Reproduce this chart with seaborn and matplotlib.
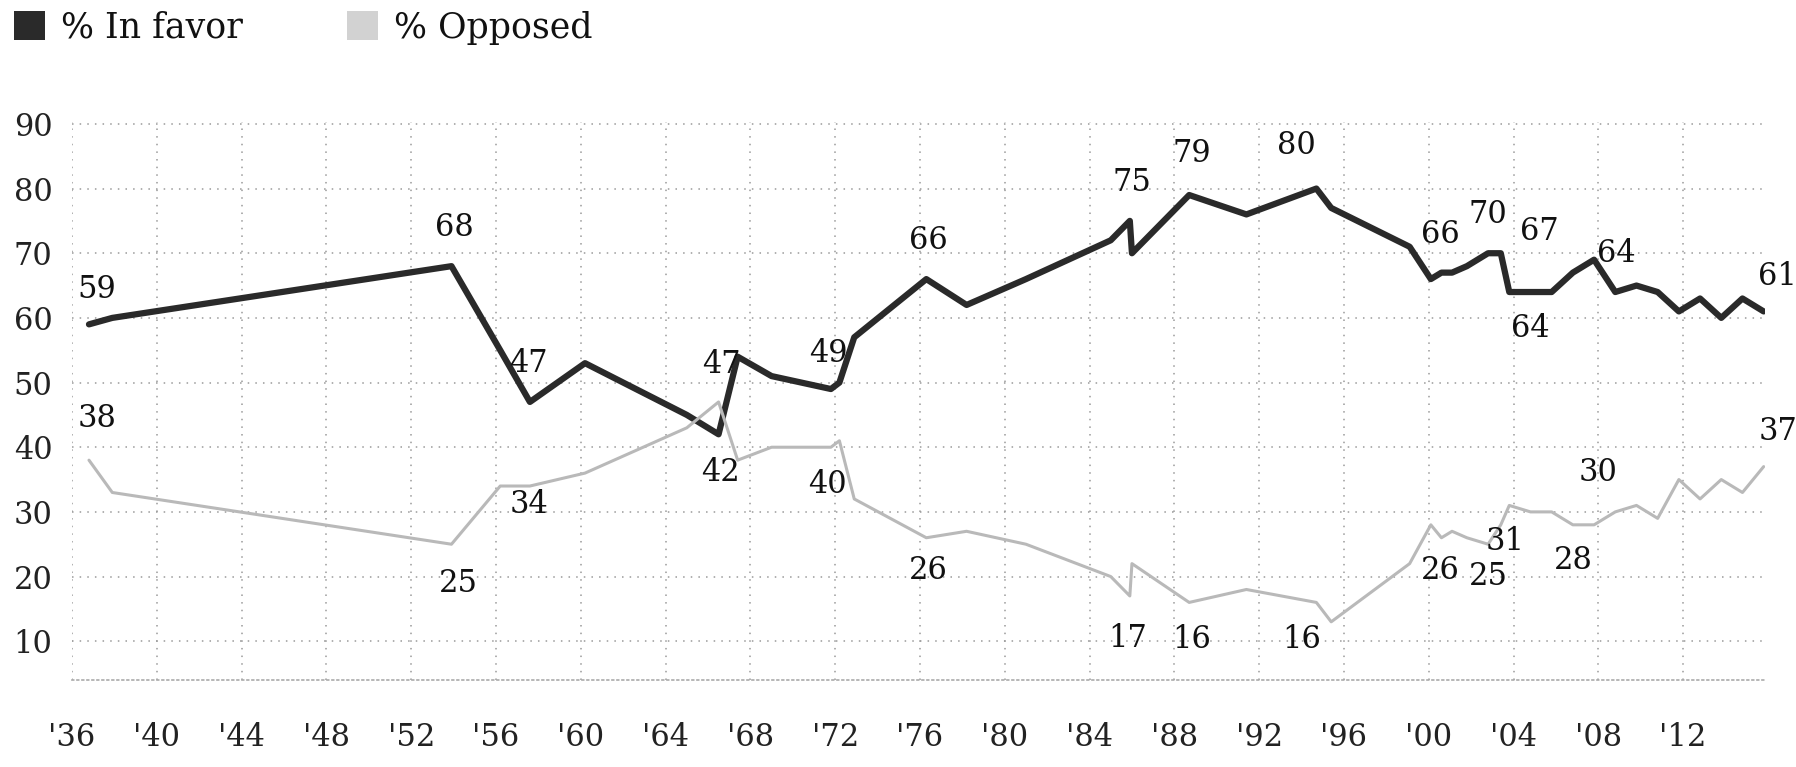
import numpy as np
import pandas as pd
import matplotlib
matplotlib.use("Agg")
import matplotlib.pyplot as plt
from matplotlib.patches import Patch
import seaborn as sns

# ---------------- data ----------------
years = [1936.8, 1937.9, 1953.9, 1956.2, 1957.6, 1960.2, 1965.0, 1966.5, 1967.4, 1969.0,
         1971.8, 1972.2, 1972.9, 1976.3, 1978.2, 1981.0, 1985.0, 1985.9, 1986.0, 1988.7,
         1991.4, 1994.7, 1995.4, 1999.1, 2000.1, 2000.6, 2001.1, 2001.8, 2002.8, 2003.4,
         2003.8, 2004.8, 2005.8, 2006.8, 2007.8, 2008.8, 2009.8, 2010.8, 2011.8, 2012.8,
         2013.8, 2014.8, 2015.8]
favor = [59, 60, 68, 55, 47, 53, 45, 42, 54, 51,
         49, 50, 57, 66, 62, 66, 72, 75, 70, 79,
         76, 80, 77, 71, 66, 67, 67, 68, 70, 70,
         64, 64, 64, 67, 69, 64, 65, 64, 61, 63,
         60, 63, 61]
opposed = [38, 33, 25, 34, 34, 36, 43, 47, 38, 40,
           40, 41, 32, 26, 27, 25, 20, 17, 22, 16,
           18, 16, 13, 22, 28, 26, 27, 26, 25, 28,
           31, 30, 30, 28, 28, 30, 31, 29, 35, 32,
           35, 33, 37]
series_names = ["% In favor", "% Opposed"]
tick_years = [1936, 1940, 1944, 1948, 1952, 1956, 1960, 1964, 1968, 1972,
              1976, 1980, 1984, 1988, 1992, 1996, 2000, 2004, 2008, 2012]
tick_labels = ["'36", "'40", "'44", "'48", "'52", "'56", "'60", "'64", "'68", "'72",
               "'76", "'80", "'84", "'88", "'92", "'96", "'00", "'04", "'08", "'12"]
y_ticks = [10, 20, 30, 40, 50, 60, 70, 80, 90]

# which points carry value labels (index into the arrays)
favor_labelled = [0, 2, 4, 7, 10, 13, 17, 19, 21, 24, 29, 31, 33, 35, 42]
opposed_labelled = [0, 2, 4, 7, 10, 13, 17, 19, 21, 25, 28, 30, 34, 35, 42]

# ---------------- styling ----------------
# label offsets in pixels (dx right, dy up)
favor_off = [(8, 35), (3, 39), (-1, 38), (2, -38), (-3, 36), (2, 39), (2, 38), (3, 42),
             (-20, 43), (10, 45), (-13, 39), (0, -36), (-33, 41), (1, 39), (14, 35)]
opposed_off = [(8, 42), (7, -39), (-1, -18), (3, 37), (-3, -37), (2, -33), (-2, -43),
               (3, -37), (-15, -37), (-1, -33), (0, -32), (-4, -36), (-21, -36),
               (-17, 39), (14, 35)]

FAV_COLOR = "#2a2a2a"
OPP_COLOR = "#b9b9b9"

sns.set_theme(style="white")
plt.rcParams["font.family"] = ["DejaVu Serif", "DejaVu Sans"]

fig = plt.figure(figsize=(17.96, 7.67), dpi=100)
ax = fig.add_axes([0.0401, 0.1134, 0.9426, 0.7276])

n = len(years)
df = pd.DataFrame({
    "year": years + years,
    "value": favor + opposed,
    "series": [series_names[0]] * n + [series_names[1]] * n,
})

sns.lineplot(data=df, x="year", y="value", hue="series", size="series",
             palette={series_names[0]: FAV_COLOR, series_names[1]: OPP_COLOR},
             sizes={series_names[0]: 4.5, series_names[1]: 2.2},
             estimator=None, legend=False, ax=ax)

for (i, (dx, dy)) in zip(favor_labelled, favor_off):
    ax.annotate(str(favor[i]), (years[i], favor[i]), xytext=(dx, dy),
                textcoords="offset pixels", ha="center", va="center",
                fontsize=22, color="#111111")
for (i, (dx, dy)) in zip(opposed_labelled, opposed_off):
    ax.annotate(str(opposed[i]), (years[i], opposed[i]), xytext=(dx, dy),
                textcoords="offset pixels", ha="center", va="center",
                fontsize=22, color="#111111")

ax.set_xlim(1936, 2015.86)
ax.set_ylim(4, 90.3)
ax.set_xticks(tick_years)
ax.set_xticklabels(tick_labels)
ax.set_yticks(y_ticks)
ax.set_yticklabels([str(v) for v in y_ticks])
ax.tick_params(axis="both", length=0, labelsize=22, colors="#222222")
ax.tick_params(axis="x", pad=30)
ax.tick_params(axis="y", pad=14)
ax.set_xlabel("")
ax.set_ylabel("")

ax.grid(True, axis="both", color="#9a9a9a", linestyle=(0, (1, 4)), linewidth=1.1)
for s in ["top", "right", "left"]:
    ax.spines[s].set_visible(False)
ax.spines["bottom"].set_visible(True)
ax.spines["bottom"].set_color("#aaaaaa")
ax.spines["bottom"].set_linestyle((0, (1, 2)))
ax.spines["bottom"].set_linewidth(1.2)

handles = [Patch(facecolor=FAV_COLOR, edgecolor="none", label=series_names[0]),
           Patch(facecolor="#d2d2d2", edgecolor="none", label=series_names[1])]
fig.legend(handles=handles, loc="upper left", bbox_to_anchor=(0.004, 0.995),
           ncol=2, frameon=False, fontsize=25, handlelength=0.9, handleheight=0.9,
           handletextpad=0.45, columnspacing=3.0, borderaxespad=0, borderpad=0.2,
           labelcolor="#111111")

fig.savefig("out.png", dpi=100)
